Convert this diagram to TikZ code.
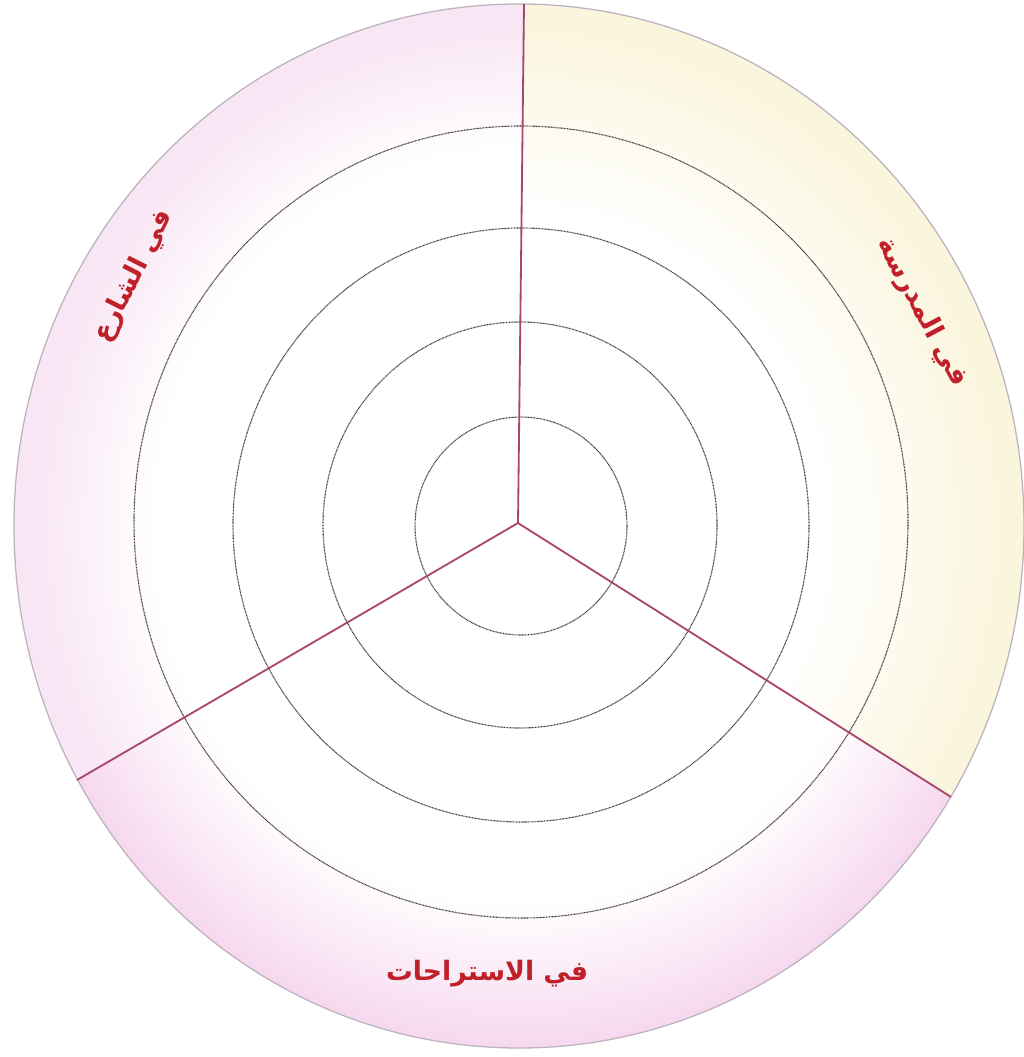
\documentclass[tikz,border=0pt]{standalone}
\usepackage{fontspec}
\usetikzlibrary{calc}
\newfontfamily\arabicfont[Script=Arabic]{DejaVu Sans}
\TeXXeTstate=1
\definecolor{spoke}{HTML}{A8466E}
\definecolor{rim}{HTML}{BDB3BD}
\definecolor{ring}{HTML}{3A3A3A}
\definecolor{lab}{HTML}{C0202A}
\definecolor{sectY}{HTML}{FAF5DD}
\definecolor{sectP}{HTML}{F8E6F4}
\definecolor{sectB}{HTML}{F6D8EF}
\pgfdeclareradialshading{fadeY}{\pgfpoint{0bp}{0bp}}{color(0bp)=(white); color(15bp)=(white); color(24bp)=(sectY); color(50bp)=(sectY)}
\pgfdeclareradialshading{fadeP}{\pgfpoint{0bp}{0bp}}{color(0bp)=(white); color(18bp)=(white); color(24bp)=(sectP); color(50bp)=(sectP)}
\pgfdeclareradialshading{fadeB}{\pgfpoint{0bp}{0bp}}{color(0bp)=(white); color(18bp)=(white); color(25bp)=(sectB); color(50bp)=(sectB)}
\begin{document}
\begin{tikzpicture}[x=0.025cm, y=-0.025cm,
  spokeline/.style={draw=spoke, line width=1.3pt},
  rimline/.style={draw=rim, line width=0.9pt},
  dotring/.style={draw=ring, line width=0.8pt, dash pattern=on 0.6pt off 0.45pt},
  label/.style={text=lab, font=\arabicfont\bfseries\fontsize{19}{22}\selectfont, inner sep=0pt}]
\useasboundingbox (0,0) rectangle (1024,1057);
\fill[white] (0,0) rectangle (1024,1057);
% coordinates
\coordinate (C) at (519,526);
\coordinate (O) at (518,523);
\coordinate (T) at (524,4);
\coordinate (R) at (951,797);
\coordinate (L) at (77,780);
\coordinate (TT) at ($(O)!1.4!(T)$);
\coordinate (RR) at ($(O)!1.6!(R)$);
\coordinate (LL) at ($(O)!1.6!(L)$);
% sector shadings
\begin{scope}
  \clip (O) -- (TT) -- (1400,-300) -- (1400,1400) -- (RR) -- cycle;
  \shade[shading=fadeY] (C) ellipse [x radius=505, y radius=522];
\end{scope}
\begin{scope}
  \clip (O) -- (TT) -- (-400,-300) -- (-400,1400) -- (LL) -- cycle;
  \shade[shading=fadeP] (C) ellipse [x radius=505, y radius=522];
\end{scope}
\begin{scope}
  \clip (O) -- (LL) -- (-400,1400) -- (1400,1400) -- (RR) -- cycle;
  \shade[shading=fadeB] (C) ellipse [x radius=505, y radius=522];
\end{scope}
% outer rim
\draw[rimline] (C) ellipse [x radius=505, y radius=522];
% dotted rings
\draw[dotring] (521,526) ellipse [x radius=106, y radius=109];
\draw[dotring] (520,525) ellipse [x radius=197, y radius=203];
\draw[dotring] (521,525) ellipse [x radius=288, y radius=297];
\draw[dotring] (521,522) ellipse [x radius=387, y radius=396];
% spokes
\draw[spokeline] (O) -- (T);
\draw[spokeline] (O) -- (R);
\draw[spokeline] (O) -- (L);
% labels
\node[label] (bottom) at (487,974) {\beginR في الاستراحات\endR};
\node[label, rotate=63] (left) at (134,276) {\beginR في الشارع\endR};
\node[label, rotate=-62] (right) at (922,312) {\beginR في المدرسة\endR};
\end{tikzpicture}
\end{document}
